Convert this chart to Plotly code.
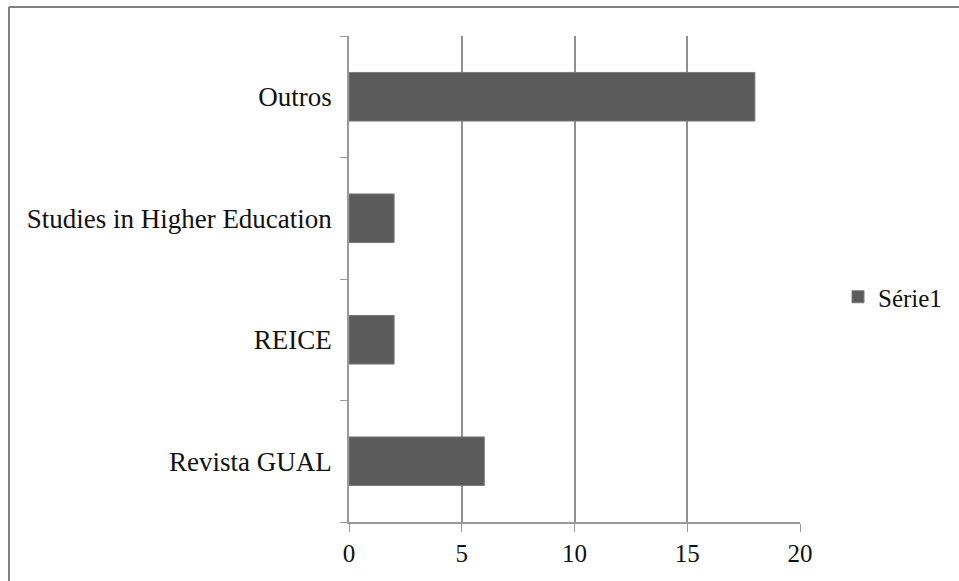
import plotly.graph_objects as go

categories = ["Revista GUAL", "REICE", "Studies in Higher Education", "Outros"]
values = [6, 2, 2, 18]
series_name = "Série1"
x_ticks = [0, 5, 10, 15, 20]

W, H = 959, 581
L, R, T, B = 349, 800, 36, 522

fig = go.Figure()
fig.add_trace(go.Bar(
    y=categories, x=values, orientation="h", name=series_name,
    marker=dict(color="#5b5b5b", line=dict(color="#7a7a7a", width=1)),
    showlegend=True,
))

FAM = "'Liberation Serif', 'Times New Roman', serif"
font = dict(family=FAM, size=27, color="#111111")
xfont = dict(family=FAM, size=25, color="#111111")

def px_x(p):
    return (p - L) / (R - L)

def px_y(p):
    return (B - p) / (B - T)

fig.update_layout(
    width=W, height=H,
    margin=dict(l=L, r=W - R, t=T, b=H - B, pad=0, autoexpand=False),
    paper_bgcolor="white", plot_bgcolor="white",
    font=font,
    bargap=0.6,
    showlegend=True,
    legend=dict(xref="container", yref="container", x=838 / W, y=1 - 297 / H,
                xanchor="left", yanchor="middle",
                font=dict(family=FAM, size=25, color="#111111"),
                bgcolor="rgba(0,0,0,0)", itemwidth=30),
    xaxis=dict(range=[0, 20], tickvals=x_ticks, ticks="outside", ticklen=8,
               tickcolor="#9a9a9a", showgrid=True, gridcolor="#8f8f8f", gridwidth=1.5,
               showline=True, linecolor="#9a9a9a", linewidth=1.5, zeroline=False,
               tickfont=xfont, fixedrange=True),
    yaxis=dict(categoryorder="array", categoryarray=categories, ticks="outside",
               tickson="boundaries", ticklen=7, tickcolor="#9a9a9a",
               showline=True, linecolor="#9a9a9a", linewidth=1.5, showgrid=False,
               tickfont=font, ticklabelstandoff=10, fixedrange=True),
    shapes=[
        dict(type="line", xref="paper", yref="paper",
             x0=px_x(9), x1=px_x(W + 5), y0=px_y(7), y1=px_y(7),
             line=dict(color="#808080", width=2)),
        dict(type="line", xref="paper", yref="paper",
             x0=px_x(9), x1=px_x(9), y0=px_y(7), y1=px_y(H + 5),
             line=dict(color="#808080", width=2)),
    ],
)

fig.write_html("out.html")
